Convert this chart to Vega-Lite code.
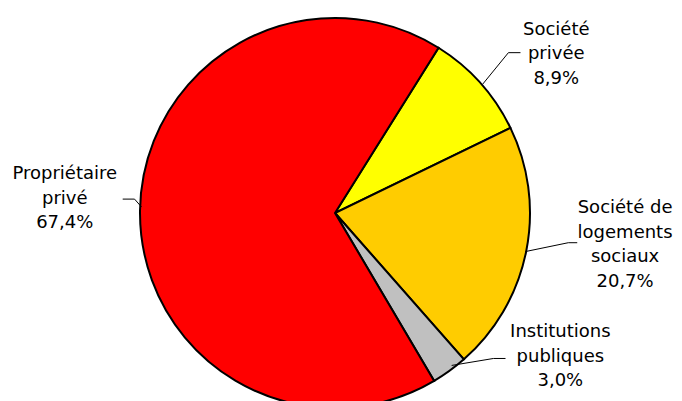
{
  "$schema": "https://vega.github.io/schema/vega-lite/v6.json",
  "autosize": {"type": "fit", "contains": "padding"},
  "width": 682,
  "height": 401,
  "padding": {"left": 0, "right": 10, "top": 21, "bottom": 0},
  "background": "white",
  "config": {"view": {"stroke": null}},
  "datasets": {
    "slices": [
      {"categorie": "Société privée", "part": 8.9, "ord": 1},
      {"categorie": "Société de logements sociaux", "part": 20.7, "ord": 2},
      {"categorie": "Institutions publiques", "part": 3.0, "ord": 3},
      {"categorie": "Propriétaire privé", "part": 67.4, "ord": 4}
    ],
    "leaders": [
      {"categorie": "Société privée", "seq": 1, "lx": 0.759, "ly": 0.667},
      {"categorie": "Société privée", "seq": 2, "lx": 0.892, "ly": 0.831},
      {"categorie": "Société privée", "seq": 3, "lx": 0.954, "ly": 0.831},
      {"categorie": "Société de logements sociaux", "seq": 1, "lx": 0.979, "ly": -0.2},
      {"categorie": "Société de logements sociaux", "seq": 2, "lx": 1.2, "ly": -0.154},
      {"categorie": "Société de logements sociaux", "seq": 3, "lx": 1.246, "ly": -0.154},
      {"categorie": "Institutions publiques", "seq": 1, "lx": 0.6, "ly": -0.79},
      {"categorie": "Institutions publiques", "seq": 2, "lx": 0.815, "ly": -0.754},
      {"categorie": "Institutions publiques", "seq": 3, "lx": 0.877, "ly": -0.754},
      {"categorie": "Propriétaire privé", "seq": 1, "lx": -0.995, "ly": 0.031},
      {"categorie": "Propriétaire privé", "seq": 2, "lx": -1.031, "ly": 0.072},
      {"categorie": "Propriétaire privé", "seq": 3, "lx": -1.092, "ly": 0.072}
    ],
    "labels": [
      {"texte": "Société\nprivée\n8,9%", "tx": 1.138, "ty": 0.925},
      {"texte": "Société de\nlogements\nsociaux\n20,7%", "tx": 1.492, "ty": 0.0},
      {"texte": "Institutions\npubliques\n3,0%", "tx": 1.159, "ty": -0.645},
      {"texte": "Propriétaire\nprivé\n67,4%", "tx": -1.39, "ty": 0.175}
    ]
  },
  "layer": [
    {
      "data": {"name": "slices"},
      "mark": {"type": "arc", "outerRadius": 195, "stroke": "black", "strokeWidth": 2, "strokeJoin": "miter"},
      "encoding": {
        "theta": {"field": "part", "type": "quantitative", "stack": true, "scale": {"range": [0.5597, 6.8429]}},
        "order": {"field": "ord", "type": "quantitative"},
        "color": {
          "field": "categorie", "type": "nominal", "legend": null,
          "scale": {
            "domain": ["Société privée", "Société de logements sociaux", "Institutions publiques", "Propriétaire privé"],
            "range": ["#FFFF00", "#FFCC00", "#C0C0C0", "#FF0000"]
          }
        }
      }
    },
    {
      "data": {"name": "leaders"},
      "mark": {"type": "line", "color": "black", "strokeWidth": 1},
      "encoding": {
        "x": {"field": "lx", "type": "quantitative", "axis": null, "scale": {"domain": [-1.7231, 1.7231], "nice": false, "zero": false}},
        "y": {"field": "ly", "type": "quantitative", "axis": null, "scale": {"domain": [-0.9744, 0.9744], "nice": false, "zero": false}},
        "detail": {"field": "categorie", "type": "nominal"},
        "order": {"field": "seq", "type": "quantitative"}
      }
    },
    {
      "data": {"name": "labels"},
      "mark": {"type": "text", "font": "DejaVu Sans", "fontSize": 18, "lineHeight": 24.5, "lineBreak": "\n", "align": "center", "baseline": "alphabetic", "color": "black"},
      "encoding": {
        "x": {"field": "tx", "type": "quantitative", "axis": null, "scale": {"domain": [-1.7231, 1.7231], "nice": false, "zero": false}},
        "y": {"field": "ty", "type": "quantitative", "axis": null, "scale": {"domain": [-0.9744, 0.9744], "nice": false, "zero": false}},
        "text": {"field": "texte", "type": "nominal"}
      }
    }
  ]
}
